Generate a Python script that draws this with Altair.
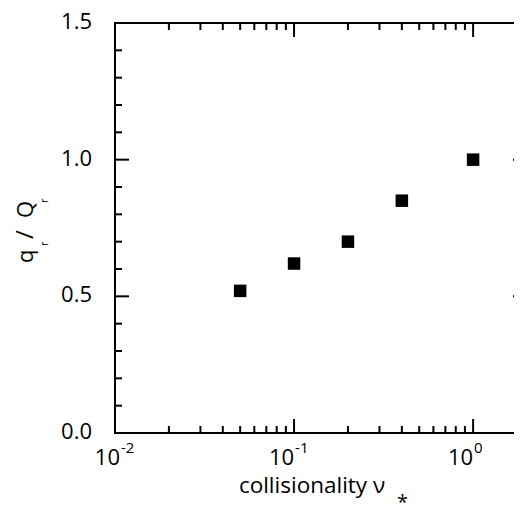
import altair as alt
import pandas as pd

# data
nu = [0.05, 0.1, 0.2, 0.4, 1.0]
ratio = [0.52, 0.62, 0.70, 0.85, 1.00]

x_major = [0.01, 0.1, 1.0]
x_exp = ["-2", "-1", "0"]
x_minor = [0.02, 0.03, 0.04, 0.05, 0.06, 0.07, 0.08, 0.09,
           0.2, 0.3, 0.4, 0.5, 0.6, 0.7, 0.8, 0.9]
y_major = [0.0, 0.5, 1.0, 1.5]
y_labels = ["0.0", "0.5", "1.0", "1.5"]
y_minor = [0.1, 0.2, 0.3, 0.4, 0.6, 0.7, 0.8, 0.9, 1.1, 1.2, 1.3, 1.4]

W, H = 412, 410
FONT = "Open Sans"

xs = alt.Scale(type="log", domain=[0.01, 2], nice=False)
ys = alt.Scale(domain=[0, 1.5], nice=False, zero=False)

pts = pd.DataFrame({"nu": nu, "ratio": ratio})
xmaj = pd.DataFrame({"v": x_major, "e": x_exp, "b": ["10"] * len(x_major)})
xmin = pd.DataFrame({"v": x_minor})
ymaj = pd.DataFrame({"v": y_major, "t": y_labels})
ymin = pd.DataFrame({"v": y_minor})

X = lambda f: alt.X(f, type="quantitative", scale=xs, axis=None)
Y = lambda f: alt.Y(f, type="quantitative", scale=ys, axis=None)

points = alt.Chart(pts).mark_square(size=156, color="black", opacity=1).encode(
    x=X("nu"), y=Y("ratio"))

def xticks(df, length):
    b = alt.Chart(df).mark_rule(color="black", strokeWidth=2)
    return [b.encode(x=X("v"), y=alt.value(H), y2=alt.value(H - length)),
            b.encode(x=X("v"), y=alt.value(0), y2=alt.value(length))]

def yticks(df, length):
    b = alt.Chart(df).mark_rule(color="black", strokeWidth=2)
    return [b.encode(y=Y("v"), x=alt.value(0), x2=alt.value(length)),
            b.encode(y=Y("v"), x=alt.value(W), x2=alt.value(W - length))]

ticks = xticks(xmaj, 14) + xticks(xmin, 7) + yticks(ymaj, 14) + yticks(ymin, 7)

ylab = alt.Chart(ymaj).mark_text(font=FONT, fontSize=22, align="right",
                                 baseline="middle", dy=-1, color="black").encode(
    y=Y("v"), x=alt.value(-23), text="t:N")

first = alt.datum.v < 0.05
xlab = []
for flt, shift in [(first, 5), (~first, 0)]:
    base = alt.Chart(xmaj).transform_filter(flt)
    xlab.append(base.mark_text(font=FONT, fontSize=22, align="right", dx=shift,
                               baseline="alphabetic", color="black").encode(
        x=X("v"), y=alt.value(442), text="b:N"))
    xlab.append(base.mark_text(font=FONT, fontSize=15, align="left", dx=1 + shift,
                               baseline="alphabetic", color="black").encode(
        x=X("v"), y=alt.value(430), text="e:N"))

one = pd.DataFrame({"k": [0]})

def txt(s, x, y, size, align="left", angle=0):
    kw = dict(font=FONT, fontSize=size, align=align, baseline="alphabetic",
              color="black", text=s)
    if angle:
        kw["angle"] = angle
    return alt.Chart(one).mark_text(**kw).encode(x=alt.value(x), y=alt.value(y))

xtitle = [txt("collisionality \u03bd", 197, 470, 22.5, align="center"),
          txt("*", 282, 486, 20)]

ytitle = [txt("q", -82, 240, 22, angle=270),
          txt("r", -67, 223, 11, angle=270),
          txt("/", -82, 216, 24, angle=270),
          txt("Q", -82, 195, 22, angle=270),
          txt("r", -67, 180, 11, angle=270)]

chart = alt.layer(points, *ticks, ylab, *xlab, *xtitle, *ytitle).properties(
    width=W, height=H,
    autosize=alt.AutoSizeParams(type="none"),
    padding={"left": 107, "top": 15, "right": -13, "bottom": 71},
).configure_view(stroke="black", strokeWidth=2)

chart.save("out.html", embed_options={"renderer": "svg", "actions": False})
